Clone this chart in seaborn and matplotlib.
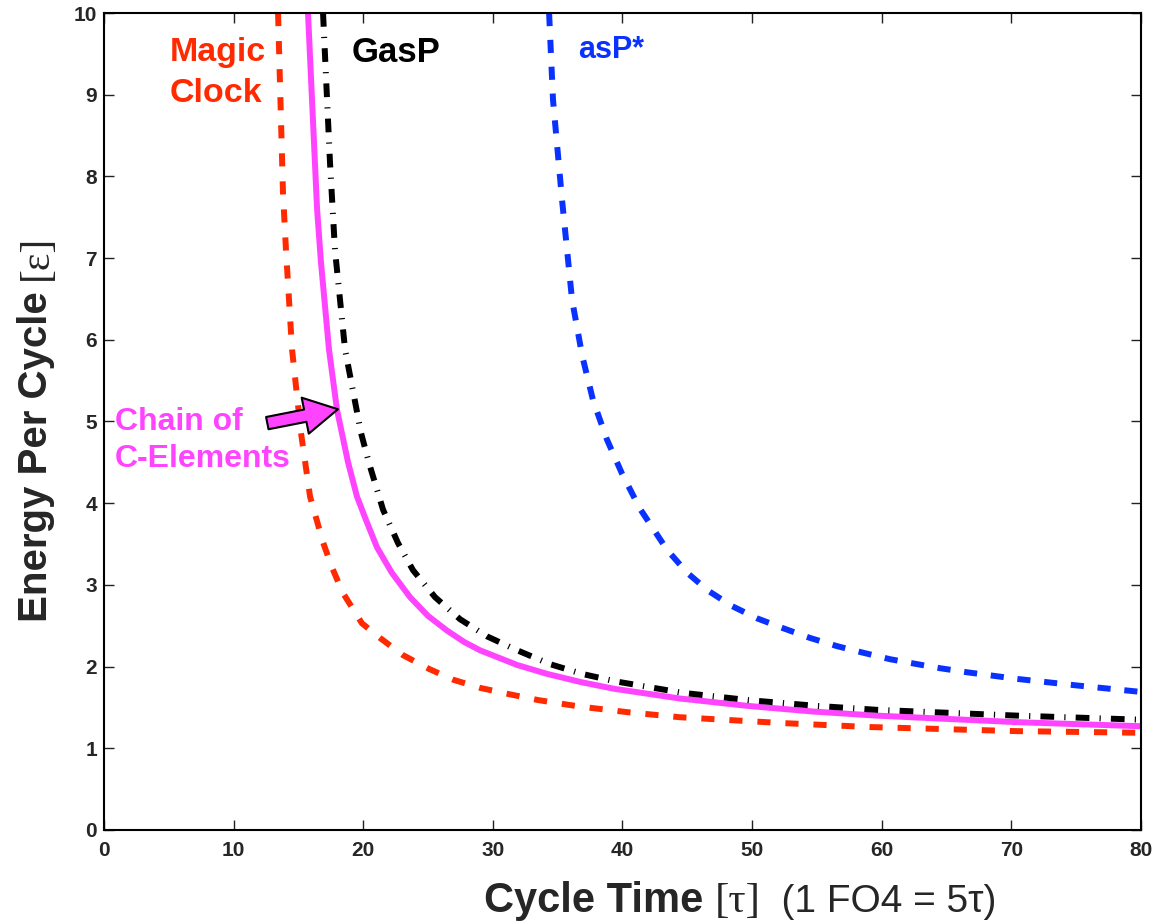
"""Energy per cycle vs. cycle time for four pipeline control styles."""

import matplotlib
matplotlib.use("Agg")
import matplotlib.pyplot as plt
import pandas as pd
import seaborn as sns

# Values
T_MAGIC = [13.43, 13.81, 14.04, 14.51, 15.20, 15.90, 16.90, 17.60, 18.44, 19.90, 21.30,
           23.07, 25.10, 26.93, 29.00, 31.33, 33.50, 36.73, 40.50, 44.44, 52.16, 59.10,
           70.40, 80.00]
E_MAGIC = [10.00, 7.80, 7.10, 5.88, 4.86, 4.08, 3.52, 3.21, 2.90, 2.53, 2.35,
           2.14, 1.97, 1.84, 1.74, 1.66, 1.59, 1.51, 1.44, 1.38, 1.31, 1.26,
           1.21, 1.19]

T_CHAIN = [15.74, 16.44, 16.74, 17.36, 17.98, 18.83, 19.52, 20.20, 21.06, 22.20, 23.61,
           25.00, 26.47, 27.80, 29.00, 31.87, 34.20, 36.80, 39.30, 44.40, 49.60, 54.70,
           59.60, 70.40, 80.00]
E_CHAIN = [10.00, 7.60, 6.95, 5.88, 5.14, 4.50, 4.08, 3.80, 3.46, 3.15, 2.85,
           2.62, 2.44, 2.30, 2.20, 2.02, 1.91, 1.81, 1.73, 1.61, 1.52, 1.45,
           1.40, 1.32, 1.27]

T_GASP = [16.90, 17.44, 17.82, 18.60, 19.83, 20.45, 21.53, 22.69, 23.84, 25.54, 27.47,
          29.55, 31.87, 34.41, 36.90, 39.43, 44.60, 49.70, 54.90, 59.70, 70.40, 80.00]
E_GASP = [10.00, 8.16, 7.10, 5.88, 4.86, 4.49, 3.92, 3.51, 3.18, 2.85, 2.58,
          2.37, 2.20, 2.03, 1.91, 1.82, 1.68, 1.59, 1.52, 1.47, 1.40, 1.35]

T_ASP = [34.34, 34.64, 35.34, 36.11, 36.90, 37.73, 38.80, 39.97, 41.36, 43.44, 44.98, 46.60,
         48.46, 50.39, 52.39, 54.48, 56.56, 58.56, 60.65, 62.73, 64.51, 66.60, 70.40,
         75.00, 80.00]
E_ASP = [10.00, 8.94, 7.71, 6.49, 5.80, 5.26, 4.78, 4.36, 3.93, 3.43, 3.15, 2.93,
         2.74, 2.59, 2.47, 2.35, 2.25, 2.17, 2.09, 2.03, 1.98, 1.93, 1.85,
         1.77, 1.69]

X_TICKS = [0, 10, 20, 30, 40, 50, 60, 70, 80]
Y_TICKS = [0, 1, 2, 3, 4, 5, 6, 7, 8, 9, 10]

RED = "#FF2A00"
MAGENTA = "#FF44FF"
BLUE = "#0A32FF"

sns.set_theme(style="ticks")
plt.rcParams["font.family"] = ["Liberation Sans", "DejaVu Sans"]

fig = plt.figure(figsize=(11.54, 9.22), dpi=100)
ax = fig.add_axes([0.0901, 0.0998, 0.8986, 0.8861])

LW = 4.3
curves = [
    (T_MAGIC, E_MAGIC, RED, (0, (2.2, 2.5))),
    (T_CHAIN, E_CHAIN, MAGENTA, "-"),
    (T_GASP, E_GASP, "black", (0, (2.3, 1.7, 0.2, 1.7))),
    (T_ASP, E_ASP, BLUE, (0, (2.2, 2.3))),
]
for t, e, color, ls in curves:
    df = pd.DataFrame({"t": t, "e": e})
    sns.lineplot(data=df, x="t", y="e", color=color, lw=LW, ls=ls, ax=ax)

ax.set_xlim(0, 80)
ax.set_ylim(0, 10)
ax.set_xticks(X_TICKS)
ax.set_yticks(Y_TICKS)
ax.set_xlabel("")
ax.set_ylabel("")
for side in ["top", "right", "bottom", "left"]:
    ax.spines[side].set_visible(True)
    ax.spines[side].set_linewidth(1.5)
    ax.spines[side].set_color("black")
ax.tick_params(direction="in", length=7, width=1, color="#222222",
               top=True, right=True, labelsize=15)
ax.tick_params(axis="x", pad=8)
ax.tick_params(axis="y", pad=5)
for lab in ax.get_xticklabels() + ax.get_yticklabels():
    lab.set_fontweight("bold")

# curve labels
ax.text(5.1, 9.27, "Magic\nClock", color=RED, fontsize=24.5, fontweight="bold",
        ha="left", va="center", linespacing=1.42)
ax.text(19.1, 9.52, "GasP", color="black", fontsize=25, fontweight="bold",
        ha="left", va="center")
ax.text(36.6, 9.55, "asP*", color=BLUE, fontsize=22, fontweight="bold",
        ha="left", va="center")
ax.text(0.85, 4.77, "Chain of\nC-Elements", color=MAGENTA, fontsize=23,
        fontweight="bold", ha="left", va="center", linespacing=1.3)
ax.annotate("", xy=(18.05, 5.15), xytext=(12.6, 4.98),
            arrowprops=dict(arrowstyle="simple,head_length=2.0,head_width=2.2,tail_width=0.75",
                            fc=MAGENTA, ec="black", lw=1.5, shrinkA=0, shrinkB=0))

# x label in pieces: bold sans, serif bracket, plain note
xb = -0.1004
t1 = ax.text(0.366, xb, "Cycle Time ", transform=ax.transAxes, fontsize=30,
             fontweight="bold", ha="left", va="baseline")
t2 = ax.annotate("[τ]", xy=(1, xb), xycoords=(t1, "axes fraction"), fontsize=31,
                 family="Liberation Serif", ha="left", va="baseline")
ax.annotate("  (1 FO4 = 5τ)", xy=(1, xb), xycoords=(t2, "axes fraction"),
            fontsize=28, ha="left", va="baseline")

# y label in pieces
yb = -0.055
u1 = ax.text(yb, 0.2546, "Energy Per Cycle ", transform=ax.transAxes, fontsize=29,
             fontweight="bold", rotation=90, rotation_mode="anchor",
             ha="left", va="baseline")
ax.annotate("[ε]", xy=(yb, 1), xycoords=("axes fraction", u1), fontsize=30,
            family="Liberation Serif", rotation=90, rotation_mode="anchor",
            ha="left", va="baseline")

fig.savefig("out.png", dpi=100)
plt.close(fig)
